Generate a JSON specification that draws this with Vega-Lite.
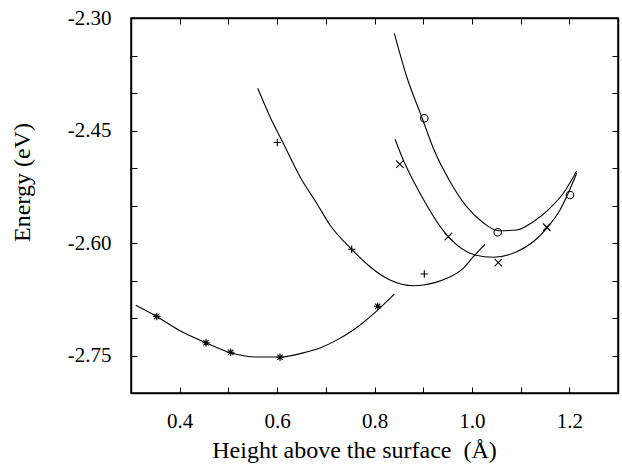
{
  "$schema": "https://vega.github.io/schema/vega-lite/v6.json",
  "width": 487,
  "height": 375,
  "autosize": "none",
  "padding": {"left": 131, "top": 18, "right": 4, "bottom": 71},
  "background": "white",
  "config": {
    "view": {"stroke": "black", "strokeWidth": 1.5},
    "font": "Liberation Serif",
    "axis": {
      "grid": false,
      "domainColor": "black",
      "domainWidth": 1.5,
      "tickColor": "black",
      "tickWidth": 1,
      "tickSize": -6,
      "labelFont": "Liberation Serif",
      "labelFontSize": 21,
      "labelColor": "black",
      "titleFont": "Liberation Serif",
      "titleFontSize": 24,
      "titleFontWeight": "normal",
      "titleColor": "black"
    }
  },
  "datasets": {
    "curves": [
      {"series": "star", "x": 0.3097, "y": -2.683},
      {"series": "star", "x": 0.3528, "y": -2.698},
      {"series": "star", "x": 0.4006, "y": -2.717},
      {"series": "star", "x": 0.454, "y": -2.733},
      {"series": "star", "x": 0.5033, "y": -2.746},
      {"series": "star", "x": 0.558, "y": -2.752},
      {"series": "star", "x": 0.606, "y": -2.752},
      {"series": "star", "x": 0.6538, "y": -2.7465},
      {"series": "star", "x": 0.688, "y": -2.74},
      {"series": "star", "x": 0.7224, "y": -2.7295},
      {"series": "star", "x": 0.7565, "y": -2.716},
      {"series": "star", "x": 0.7908, "y": -2.6985},
      {"series": "star", "x": 0.8407, "y": -2.668},
      {"series": "plus", "x": 0.5602, "y": -2.3937},
      {"series": "plus", "x": 0.5854, "y": -2.4316},
      {"series": "plus", "x": 0.6127, "y": -2.4671},
      {"series": "plus", "x": 0.647, "y": -2.5116},
      {"series": "plus", "x": 0.6813, "y": -2.547},
      {"series": "plus", "x": 0.7086, "y": -2.576},
      {"series": "plus", "x": 0.7532, "y": -2.6084},
      {"series": "plus", "x": 0.7908, "y": -2.6316},
      {"series": "plus", "x": 0.8318, "y": -2.6493},
      {"series": "plus", "x": 0.8797, "y": -2.6569},
      {"series": "plus", "x": 0.9002, "y": -2.656},
      {"series": "plus", "x": 0.9483, "y": -2.6471},
      {"series": "plus", "x": 0.9823, "y": -2.6337},
      {"series": "plus", "x": 1.0029, "y": -2.6183},
      {"series": "plus", "x": 1.0269, "y": -2.6017},
      {"series": "circle", "x": 0.8407, "y": -2.3204},
      {"series": "circle", "x": 0.866, "y": -2.378},
      {"series": "circle", "x": 0.898, "y": -2.4337},
      {"series": "circle", "x": 0.9208, "y": -2.4737},
      {"series": "circle", "x": 0.955, "y": -2.518},
      {"series": "circle", "x": 0.9893, "y": -2.5516},
      {"series": "circle", "x": 1.0234, "y": -2.573},
      {"series": "circle", "x": 1.0542, "y": -2.5836},
      {"series": "circle", "x": 1.092, "y": -2.5827},
      {"series": "circle", "x": 1.126, "y": -2.5716},
      {"series": "circle", "x": 1.16, "y": -2.5537},
      {"series": "circle", "x": 1.1877, "y": -2.5337},
      {"series": "circle", "x": 1.2152, "y": -2.504},
      {"series": "cross", "x": 0.8421, "y": -2.4617},
      {"series": "cross", "x": 0.8591, "y": -2.4893},
      {"series": "cross", "x": 0.8934, "y": -2.5337},
      {"series": "cross", "x": 0.9515, "y": -2.5916},
      {"series": "cross", "x": 1.0064, "y": -2.616},
      {"series": "cross", "x": 1.0439, "y": -2.619},
      {"series": "cross", "x": 1.092, "y": -2.6116},
      {"series": "cross", "x": 1.126, "y": -2.5983},
      {"series": "cross", "x": 1.1536, "y": -2.5804},
      {"series": "cross", "x": 1.1809, "y": -2.556},
      {"series": "cross", "x": 1.2152, "y": -2.5071}
    ],
    "points": [
      {"series": "star", "x": 0.3528, "y": -2.698},
      {"series": "star", "x": 0.454, "y": -2.733},
      {"series": "star", "x": 0.5047, "y": -2.7457},
      {"series": "star", "x": 0.606, "y": -2.7524},
      {"series": "star", "x": 0.8066, "y": -2.6844},
      {"series": "plus", "x": 0.6004, "y": -2.466},
      {"series": "plus", "x": 0.7532, "y": -2.6084},
      {"series": "plus", "x": 0.9023, "y": -2.6413},
      {"series": "circle", "x": 0.9023, "y": -2.4337},
      {"series": "circle", "x": 1.053, "y": -2.5857},
      {"series": "circle", "x": 1.2014, "y": -2.536},
      {"series": "cross", "x": 0.852, "y": -2.4947},
      {"series": "cross", "x": 0.9515, "y": -2.5916},
      {"series": "cross", "x": 1.0542, "y": -2.6262},
      {"series": "cross", "x": 1.1536, "y": -2.579}
    ]
  },
  "layer": [
    {
      "data": {"name": "curves"},
      "mark": {"type": "line", "interpolate": "monotone", "color": "black", "strokeWidth": 1.1},
      "encoding": {
        "x": {
          "field": "x", "type": "quantitative",
          "scale": {"domain": [0.3, 1.3], "nice": false, "zero": false},
          "axis": {
            "orient": "bottom",
            "title": "Height above the surface\u00a0 (Å)",
            "values": [0.4, 0.5, 0.6, 0.7, 0.8, 0.9, 1.0, 1.1, 1.2],
            "labelExpr": "round(datum.value*10) % 2 == 0 ? format(datum.value, '.1f') : ''",
            "labelPadding": 23,
            "titleX": 223,
            "titleY": 64,
            "titleBaseline": "alphabetic"
          }
        },
        "y": {
          "field": "y", "type": "quantitative",
          "scale": {"domain": [-2.8, -2.3], "nice": false, "zero": false},
          "axis": {
            "orient": "left",
            "title": "Energy  (eV)",
            "values": [-2.8, -2.75, -2.7, -2.65, -2.6, -2.55, -2.5, -2.45, -2.4, -2.35, -2.3],
            "labelExpr": "round((datum.value + 2.3) * 100) % 15 == 0 ? replace(format(datum.value, '.2f'), '\u2212', '-') : ''",
            "labelPadding": 26,
            "titleX": -97,
            "titleY": 164,
            "titleBaseline": "bottom"
          }
        },
        "detail": {"field": "series"}
      }
    },
    {
      "data": {"name": "points"},
      "mark": {"type": "point", "filled": false, "color": "black", "strokeWidth": 1.1, "size": 56, "opacity": 1},
      "encoding": {
        "x": {
          "field": "x", "type": "quantitative",
          "axis": {
            "orient": "top", "title": null, "labels": false,
            "values": [0.4, 0.5, 0.6, 0.7, 0.8, 0.9, 1.0, 1.1, 1.2]
          }
        },
        "y": {
          "field": "y", "type": "quantitative",
          "axis": {
            "orient": "right", "title": null, "labels": false,
            "values": [-2.8, -2.75, -2.7, -2.65, -2.6, -2.55, -2.5, -2.45, -2.4, -2.35, -2.3]
          }
        },
        "shape": {
          "field": "series", "type": "nominal",
          "scale": {
            "domain": ["star", "plus", "circle", "cross"],
            "range": [
              "M-1,0L1,0M0,-1L0,1M-0.7,-0.7L0.7,0.7M-0.7,0.7L0.7,-0.7",
              "M-1,0L1,0M0,-1L0,1",
              "circle",
              "M-1,-1L1,1M-1,1L1,-1"
            ]
          },
          "legend": null
        }
      }
    }
  ],
  "resolve": {"axis": {"x": "independent", "y": "independent"}}
}
